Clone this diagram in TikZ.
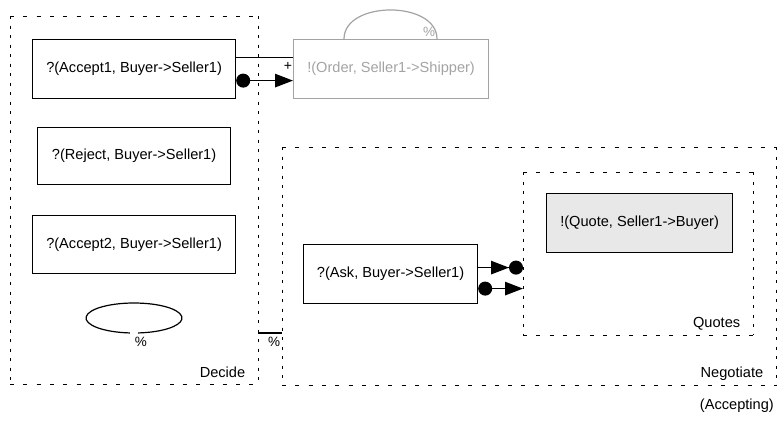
\documentclass[tikz,border=0pt]{standalone}
\usepackage{fontspec}
\setmainfont{Liberation Sans}
\usetikzlibrary{arrows.meta}
\definecolor{ghost}{gray}{0.64}
\definecolor{shade}{gray}{0.91}
\newcommand{\dashframe}[1]{%
  \draw[hedge] (#1.north west) -- (#1.north east);
  \draw[hedge] (#1.south west) -- (#1.south east);
  \draw[vedge] (#1.north west) -- (#1.south west);
  \draw[vedge] (#1.north east) -- (#1.south east);}
\begin{document}
\begin{tikzpicture}[x=1pt,y=-1pt,
  font=\fontsize{14.6}{17}\selectfont,
  box/.style={draw, line width=1.2pt, inner sep=0pt, anchor=north west},
  container/.style={inner sep=0pt, anchor=north west},
  hedge/.style={line width=0.9pt, dash pattern=on 4pt off 9.3pt},
  vedge/.style={line width=0.9pt, dash pattern=on 3pt off 6.5pt},
  conn/.style={line width=1.2pt},
  lbl/.style={anchor=base east, inner sep=0pt},
  pct/.style={font=\fontsize{13.5}{15}\selectfont, inner sep=0pt}]
\useasboundingbox (0,0) rectangle (777,426);

% containers
\node[container, minimum width=248pt, minimum height=368pt] (decide) at (10,16) {};
\node[container, minimum width=494pt, minimum height=238pt] (negotiate) at (282,147) {};
\node[container, minimum width=230pt, minimum height=163pt] (quotes) at (523,172) {};
\dashframe{decide}
\dashframe{negotiate}
\dashframe{quotes}

\node[lbl] (decidelbl) at ([shift={(-13,-7)}]decide.south east) {Decide};
\node[lbl] (negotiatelbl) at ([shift={(-13,-8)}]negotiate.south east) {Negotiate};
\node[lbl] (quoteslbl) at ([shift={(-13,-8)}]quotes.south east) {Quotes};
\node[lbl] (accepting) at (774,409) {(Accepting)};

% boxes
\node[box, minimum width=203pt, minimum height=59pt] (acc1) at (32,39) {?(Accept1, Buyer->Seller1)};
\node[box, minimum width=193pt, minimum height=57pt] (reject) at (37,127) {?(Reject, Buyer->Seller1)};
\node[box, minimum width=203pt, minimum height=58pt] (acc2) at (32,215) {?(Accept2, Buyer->Seller1)};
\node[box, draw=ghost, text=ghost, minimum width=195pt, minimum height=59pt] (order) at (293,39) {!(Order, Seller1->Shipper)};
\node[box, fill=shade, minimum width=186pt, minimum height=59pt] (quote) at (546,193) {!(Quote, Seller1->Buyer)};
\node[box, minimum width=174pt, minimum height=59pt] (ask) at (303,244) {?(Ask, Buyer->Seller1)};

% Accept1 -> Order
\draw[conn] ([yshift=11.5pt]acc1.east) -- ([yshift=11.5pt]order.west);
\node[pct, font=\fontsize{14}{15}\selectfont] (plus) at (288,66) {+};
\draw[conn, {Circle[length=14pt]}-{Triangle[length=18pt,width=13.5pt]}]
  ([yshift=-11.5pt]acc1.east) -- ([yshift=-11.5pt]order.west);

% loop on Order
\draw[conn, draw=ghost] ([xshift=51pt]order.north west) .. controls +(0,-38.7) and +(0,-38.7) .. ([xshift=144pt]order.north west);
\node[pct, text=ghost] (pct1) at (429,32) {\%};

% loop in Decide
\coordinate (dc) at (134,318);
\draw[conn] (dc) ++(95:48 and 15) arc[start angle=95, end angle=445, x radius=48, y radius=15];
\node[pct] (pct2) at (141,342) {\%};

% link between Decide and Negotiate
\coordinate (l1) at (decide.east |- 0,333);
\draw[conn] (l1) -- (l1 -| negotiate.west);
\node[pct] (pct3) at (274,342) {\%};

% Ask -> Quotes
\coordinate (a1) at ([yshift=6.5pt]ask.east);
\coordinate (a2) at ([yshift=-14.5pt]ask.east);
\draw[conn, -{Triangle[length=18pt,width=13.5pt] Circle[length=14pt]}] (a1) -- (a1 -| quotes.west);
\draw[conn, {Circle[length=14pt]}-{Triangle[length=18pt,width=13.5pt]}] (a2) -- (a2 -| quotes.west);
\end{tikzpicture}
\end{document}
